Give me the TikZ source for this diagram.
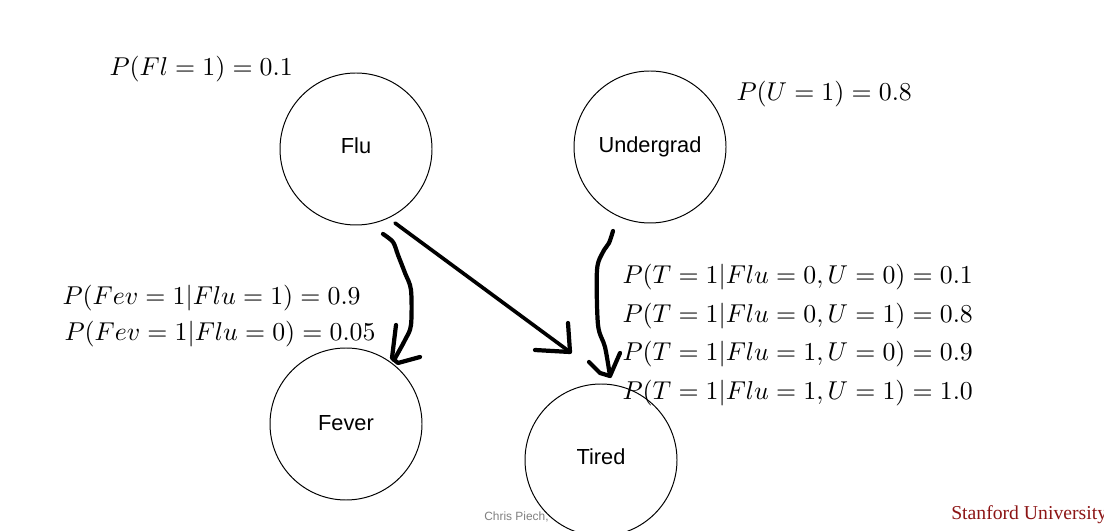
\documentclass[tikz,border=0pt]{standalone}
\usepackage{fontspec}
\setsansfont{Liberation Sans}
\newfontfamily\stanfordfont{Liberation Serif}
\definecolor{cardinal}{HTML}{8C1515}
\definecolor{footgray}{HTML}{808080}
\tikzset{
  varnode/.style={draw,circle,line width=0.7pt,minimum size=3.8cm,inner sep=0pt,font=\sffamily\fontsize{15.5}{19}\selectfont},
  probnode/.style={anchor=west,inner sep=0pt,scale=1.835,transform shape},
  stroke/.style={line width=3pt,line cap=round,line join=round}
}

\begin{document}
\begin{tikzpicture}
  \useasboundingbox (0,0) rectangle (27.6,13.25);
  \node[text=footgray,font=\sffamily\fontsize{8.5}{10}\selectfont,anchor=west,inner sep=0pt] (author) at (12.1,0.32) {Chris Piech,};
  \node[text=cardinal,font=\stanfordfont\fontsize{14}{17}\selectfont,anchor=west,inner sep=0pt] (school) at (23.775,0.38) {Stanford University};
  \node[varnode,text depth=0.15cm] (flu) at (8.9,9.525) {Flu};
  \node[varnode] (undergrad) at (16.25,9.575) {Undergrad};
  \node[varnode,text depth=0.05cm] (fever) at (8.65,2.65) {Fever};
  \node[varnode,text depth=0.15cm] (tired) at (15.025,1.75) {Tired};
  \coordinate (FS) at (9.575,7.4);
  \coordinate (FE) at (9.85,4.25);
  \coordinate (DS) at (9.875,7.675);
  \coordinate (DE) at (14.25,4.45);
  \coordinate (US) at (15.325,7.475);
  \coordinate (UE) at (15.25,3.85);
  \draw[stroke] plot[smooth,tension=0.5] coordinates {(FS) (9.825,7.2) (9.95,6.875) (10.125,6.425) (10.275,6.0) (10.275,5.125) (10.125,4.75) (FE)};
  \draw[stroke] (9.9,5.125) -- (9.8,4.3) -- (9.95,4.175) -- (10.5,4.325);
  \draw[stroke,line width=2.6pt] (DS) -- (DE);
  \draw[stroke] (14.2,5.175) -- (DE) -- (13.375,4.5);
  \draw[stroke] plot[smooth,tension=0.5] coordinates {(US) (15.225,7.175) (15.075,6.95) (14.925,6.5) (14.95,5.125) (15.125,4.575) (UE)};
  \draw[stroke] (15.5,4.425) -- (UE) -- (15.0,3.925) -- (14.725,4.2);
  \node[probnode] (pflu) at (2.725,11.525) {$P(Fl=1)=0.1$};
  \node[probnode] (pund) at (18.4,10.9) {$P(U=1)=0.8$};
  \node[probnode] (pfeva) at (1.55,5.8) {$P(Fev=1|Flu=1)=0.9$};
  \node[probnode] (pfevb) at (1.6,4.9) {$P(Fev=1|Flu=0)=0.05$};
  \node[probnode] (ptira) at (15.55,6.325) {$P(T=1|Flu=0,U=0)=0.1$};
  \node[probnode] (ptirb) at (15.55,5.35) {$P(T=1|Flu=0,U=1)=0.8$};
  \node[probnode] (ptirc) at (15.55,4.4) {$P(T=1|Flu=1,U=0)=0.9$};
  \node[probnode] (ptird) at (15.55,3.425) {$P(T=1|Flu=1,U=1)=1.0$};
\end{tikzpicture}
\end{document}
